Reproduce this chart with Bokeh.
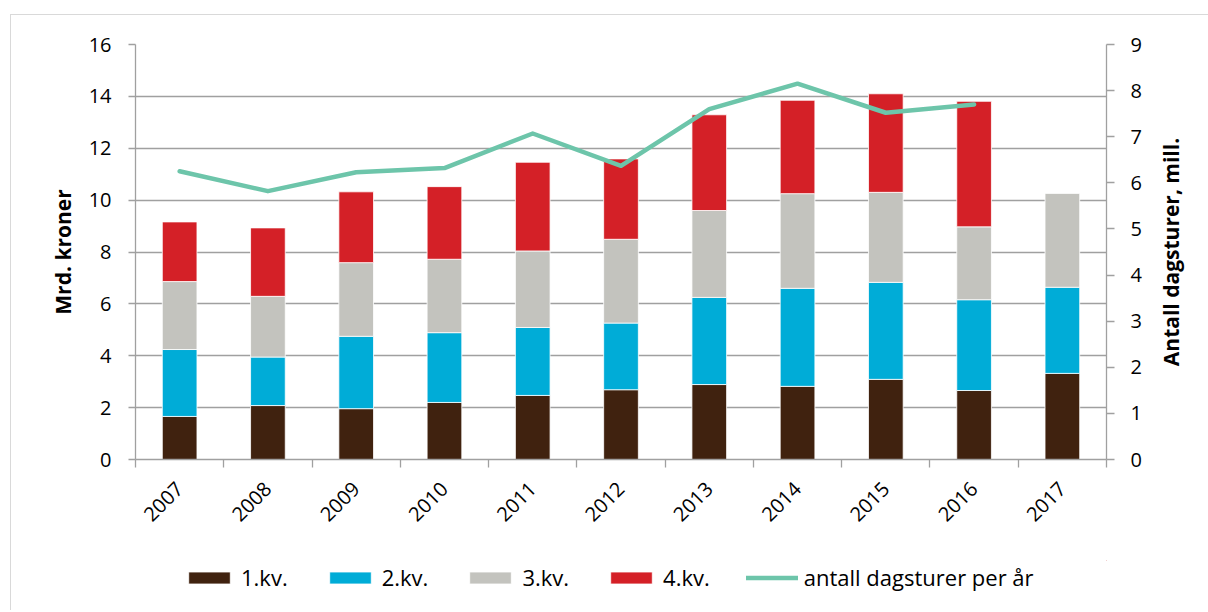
import numpy as np
from math import pi
from bokeh.plotting import figure
from bokeh.layouts import column, row
from bokeh.models import (ColumnDataSource, Range1d, LinearAxis, FixedTicker,
                          Legend, LegendItem, Label)
from bokeh.embed import file_html
from bokeh.resources import INLINE

# ---------------- data ----------------
years = ["2007", "2008", "2009", "2010", "2011", "2012",
         "2013", "2014", "2015", "2016", "2017"]
q1 = [1.66, 2.08, 1.96, 2.20, 2.47, 2.69, 2.89, 2.82, 3.09, 2.66, 3.32]
q2 = [2.58, 1.87, 2.79, 2.69, 2.62, 2.57, 3.36, 3.78, 3.74, 3.50, 3.32]
q3 = [2.62, 2.34, 2.84, 2.83, 2.95, 3.23, 3.35, 3.65, 3.47, 2.81, 3.62]
q4 = [2.30, 2.64, 2.73, 2.80, 3.42, 3.10, 3.69, 3.60, 3.80, 4.84, np.nan]
dagsturer = [6.25, 5.82, 6.23, 6.32, 7.07, 6.37, 7.60, 8.15, 7.52, 7.70, np.nan]

quarter_names = ["1.kv.", "2.kv.", "3.kv.", "4.kv."]
line_name = "antall dagsturer per år"
left_ticks = [0, 2, 4, 6, 8, 10, 12, 14, 16]
right_ticks = [0, 1, 2, 3, 4, 5, 6, 7, 8, 9]
left_title = "Mrd. kroner"
right_title = "Antall dagsturer, mill."

# ---------------- styles ----------------
bar_colors = ["#40220F", "#00ACD7", "#C3C3BE", "#D42027"]
line_color = "#6DC5AA"
grid_color = "#A0A0A0"
FONT = "Open Sans"
BAR_W = 0.393
LINE_W = 4.5
stack_fields = ["q1", "q2", "q3", "q4"]

MAIN_W, MAIN_H = 1136, 545
B_LEFT, B_RIGHT, B_TOP, B_BOTTOM = 124, 41, 29, 101
LEG_W = 1197

idx = np.arange(len(years))
xpos = idx + 0.5
src = ColumnDataSource(dict(
    x=xpos,
    q1=np.array(q1, dtype=float), q2=np.array(q2, dtype=float),
    q3=np.array(q3, dtype=float), q4=np.array(q4, dtype=float),
    turer=np.array(dagsturer, dtype=float),
))

p = figure(width=MAIN_W, height=MAIN_H,
           x_range=Range1d(0, len(years)), y_range=Range1d(0, 16),
           output_backend="svg", toolbar_location=None,
           min_border_left=B_LEFT, min_border_right=B_RIGHT,
           min_border_top=B_TOP, min_border_bottom=B_BOTTOM)
p.outline_line_color = None
p.background_fill_color = "white"
p.border_fill_color = "white"

p.extra_y_ranges = {"turer": Range1d(0, 9)}

bars = p.vbar_stack(stack_fields, x="x", width=BAR_W, source=src,
                    color=bar_colors, line_color="white", line_width=0.8)
ln = p.line("x", "turer", source=src, y_range_name="turer",
            line_color=line_color, line_width=LINE_W, line_cap="round",
            line_join="round")

# x axis: labels at centres, ticks at category boundaries
xax = p.xaxis[0]
xax.ticker = FixedTicker(ticks=list(xpos), minor_ticks=list(np.arange(len(years) + 1)))
xax.major_label_overrides = {float(v): y for v, y in zip(xpos, years)}
xax.major_tick_out = 0
xax.major_tick_in = 0
xax.minor_tick_out = 8
xax.minor_tick_in = 0
xax.minor_tick_line_color = grid_color
xax.minor_tick_line_width = 1.3
xax.axis_line_color = grid_color
xax.axis_line_width = 1.3
xax.major_label_orientation = pi / 4
xax.major_label_standoff = 18
xax.major_label_text_font = FONT
xax.major_label_text_font_size = "20px"
xax.major_label_text_color = "black"

# left axis
yax = p.yaxis[0]
yax.ticker = FixedTicker(ticks=left_ticks)
yax.axis_label = left_title
yax.axis_label_text_font = FONT
yax.axis_label_text_font_style = "bold"
yax.axis_label_text_font_size = "21px"
yax.axis_label_text_color = "black"
yax.axis_label_standoff = 9
yax.major_label_text_font = FONT
yax.major_label_text_font_size = "20px"
yax.major_label_text_color = "black"
yax.major_label_standoff = 17
yax.major_tick_out = 7
yax.major_tick_in = 0
yax.major_tick_line_color = grid_color
yax.major_tick_line_width = 1.3
yax.minor_tick_line_color = None
yax.axis_line_color = grid_color
yax.axis_line_width = 1.3

# right axis (its title is drawn in the strip to the right)
rax = LinearAxis(y_range_name="turer", ticker=FixedTicker(ticks=right_ticks))
rax.major_label_text_font = FONT
rax.major_label_text_font_size = "20px"
rax.major_label_text_color = "black"
rax.major_label_standoff = 16
rax.major_tick_out = 8
rax.major_tick_in = 0
rax.major_tick_line_color = grid_color
rax.major_tick_line_width = 1.3
rax.minor_tick_line_color = None
rax.axis_line_color = grid_color
rax.axis_line_width = 1.3
p.add_layout(rax, "right")

p.xgrid.visible = False
p.ygrid.grid_line_color = grid_color
p.ygrid.grid_line_width = 1.3

# ---------------- right title strip ----------------
tf = figure(width=46, height=MAIN_H, x_range=Range1d(0, 1), y_range=Range1d(0, 1),
            output_backend="svg", toolbar_location=None,
            x_axis_location=None, y_axis_location=None,
            min_border_left=0, min_border_right=0,
            min_border_top=B_TOP, min_border_bottom=B_BOTTOM)
tf.outline_line_color = None
tf.xgrid.visible = False
tf.ygrid.visible = False
tf.border_fill_color = "white"
tf.add_layout(Label(x=0.5, y=0.5, text=right_title, angle=pi / 2,
                    text_align="center", text_baseline="middle",
                    text_font=FONT, text_font_style="bold",
                    text_font_size="21px", text_color="black"))

# ---------------- legend strip (separate figure below) ----------------
# same data, but ranges chosen so that nothing is visible in this strip
lf = figure(width=LEG_W, height=50, x_range=Range1d(-20, -19),
            y_range=Range1d(-2, -1),
            output_backend="svg", toolbar_location=None,
            x_axis_location=None, y_axis_location=None,
            min_border_left=B_LEFT, min_border_right=LEG_W - MAIN_W + B_RIGHT,
            min_border_top=0, min_border_bottom=0)
lf.outline_line_color = None
lf.xgrid.visible = False
lf.ygrid.visible = False
lf.border_fill_color = "white"

lrs = lf.vbar_stack(stack_fields, x="x", width=BAR_W, source=src,
                    color=bar_colors, line_color="white", line_width=0.8)
lln = lf.line("x", "turer", source=src, line_color=line_color,
              line_width=LINE_W, line_cap="round")

items = [LegendItem(label=n, renderers=[r]) for n, r in zip(quarter_names, lrs)]
items.append(LegendItem(label=line_name, renderers=[lln]))
legend = Legend(items=items, orientation="horizontal", location=(48, 18),
                label_text_font=FONT, label_text_font_size="22px",
                label_text_color="black",
                glyph_width=52, glyph_height=15, label_standoff=6, spacing=36,
                padding=0, margin=0, border_line_color=None,
                background_fill_alpha=0)
lf.add_layout(legend)

layout = column(row(p, tf, spacing=0), lf, spacing=0)
layout.styles = {"border-left": "1px solid #D9D9D9", "border-top": "1px solid #D9D9D9",
                 "margin-left": "10px", "margin-top": "14px"}

open("out.html", "w").write(file_html(layout, INLINE))
